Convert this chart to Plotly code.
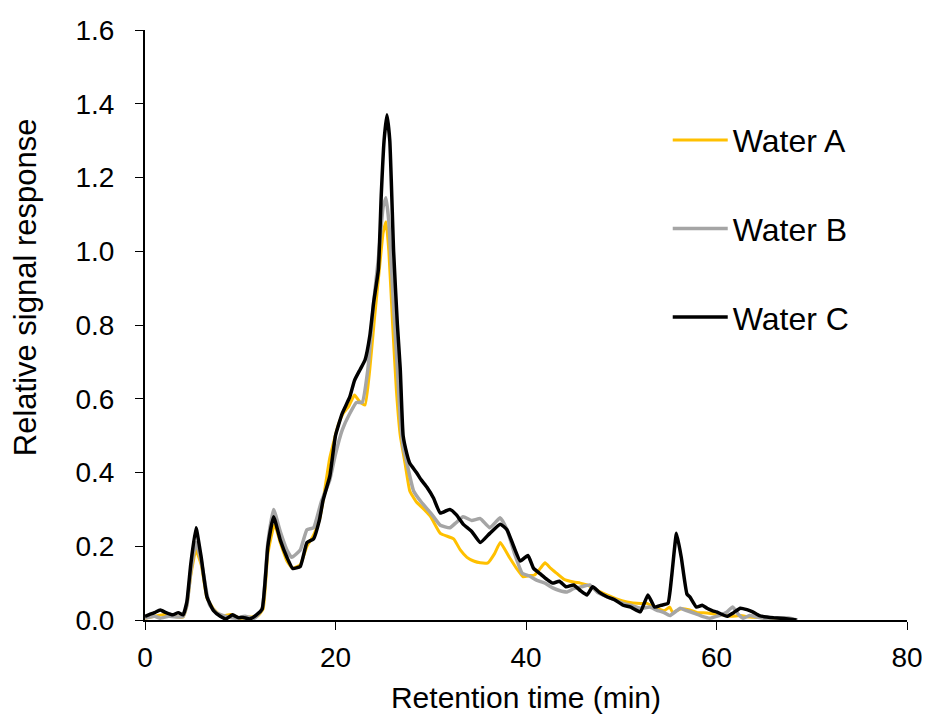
import plotly.graph_objects as go

# Water A (yellow)
t_a = [0, 1, 2, 3, 4.0, 4.4, 4.8, 5.35, 5.9, 6.5, 7.2, 8, 9, 10, 11, 11.8, 12.4, 12.9, 13.6, 14.2,
       14.9, 15.5, 16.3, 17, 17.7, 18.3, 18.7, 19.4, 20.3, 20.8, 21.4, 22, 22.6, 23.1, 23.6, 24.1,
       24.6, 25, 25.3, 25.6, 26, 26.4, 26.8, 27.3, 27.8, 28.5, 29.3, 30, 31, 32.4, 33.1, 33.8, 34.5,
       35.2, 36, 36.7, 37.3, 38.3, 39, 39.7, 40.3, 40.9, 41.5, 42, 42.6, 43.2, 44, 45, 45.7, 46.4,
       47.5, 48.5, 49.5, 50.6, 52, 52.7, 53.7, 54.5, 55.1, 55.4, 56.2, 57.2, 58, 59, 60, 60.6, 61.5,
       62.5, 63.5, 65, 66.7, 67.5]
y_a = [0.005, 0.01, 0.015, 0.01, 0.008, 0.04, 0.12, 0.19, 0.15, 0.06, 0.03, 0.01, 0.015, 0.005,
       0.008, 0.01, 0.03, 0.18, 0.26, 0.21, 0.16, 0.14, 0.15, 0.2, 0.23, 0.27, 0.325, 0.44, 0.53,
       0.56, 0.58, 0.61, 0.59, 0.583, 0.68, 0.82, 0.95, 1.05, 1.08, 1.0, 0.8, 0.62, 0.5, 0.425,
       0.35, 0.32, 0.3, 0.28, 0.235, 0.22, 0.19, 0.17, 0.16, 0.155, 0.155, 0.18, 0.21, 0.168, 0.14,
       0.117, 0.12, 0.122, 0.14, 0.155, 0.14, 0.127, 0.11, 0.103, 0.1, 0.095, 0.08, 0.068, 0.057,
       0.049, 0.045, 0.045, 0.032, 0.025, 0.035, 0.02, 0.03, 0.027, 0.02, 0.019, 0.015, 0.014,
       0.01, 0.012, 0.008, 0.006, 0.005, 0.0]

# Water B (grey)
t_b = [0, 1, 1.6, 2.5, 3.5, 4.0, 4.4, 4.8, 5.35, 5.9, 6.5, 6.8, 7.5, 8.5, 9.5, 10.5, 11.5, 12.3,
       12.9, 13.5, 14.2, 14.9, 15.4, 16.3, 17, 17.7, 18.5, 19.4, 20, 20.7, 21.5, 22.2, 22.8, 23.4,
       24, 24.5, 25, 25.3, 25.6, 26.1, 26.5, 26.8, 27.1, 27.5, 28.2, 29, 30, 31, 32, 32.7, 33.4,
       34.3, 35.2, 36.2, 37.3, 38, 38.8, 39.6, 40.3, 41.1, 42, 42.8, 43.5, 44.3, 45, 45.8, 46.7,
       47.5, 48.5, 49.3, 50.2, 51, 52, 53, 53.7, 54.5, 55.1, 56.2, 56.7, 57.6, 58.5, 59.3, 60, 61,
       61.7, 62.3, 62.8, 63.5, 64.2, 65, 66, 67.7, 68.5]
y_b = [0.005, 0.01, 0.005, 0.01, 0.008, 0.01, 0.04, 0.13, 0.21, 0.16, 0.07, 0.04, 0.02, 0.01,
       0.005, 0.01, 0.005, 0.03, 0.21, 0.3, 0.24, 0.19, 0.17, 0.19, 0.245, 0.25, 0.32, 0.38, 0.45,
       0.515, 0.56, 0.59, 0.59, 0.68, 0.86, 0.98, 1.12, 1.145, 1.08, 0.85, 0.68, 0.55, 0.47, 0.425,
       0.35, 0.32, 0.29, 0.257, 0.25, 0.265, 0.28, 0.27, 0.275, 0.25, 0.277, 0.245, 0.18, 0.127,
       0.12, 0.108, 0.1, 0.087, 0.08, 0.076, 0.085, 0.09, 0.095, 0.075, 0.063, 0.055, 0.045, 0.04,
       0.032, 0.035, 0.027, 0.02, 0.012, 0.032, 0.027, 0.019, 0.01, 0.005, 0.01, 0.02, 0.035,
       0.015, 0.005, 0.012, 0.008, 0.005, 0.006, 0.005, 0.0]

# Water C (black)
t_c = [0, 0.5, 1, 1.6, 2.2, 2.9, 3.5, 4.0, 4.4, 4.8, 5.35, 5.9, 6.5, 7.2, 7.9, 8.5, 9.2, 9.8, 10.3,
       11, 11.7, 12.3, 12.9, 13.5, 14.2, 14.9, 15.5, 16.3, 17.0, 17.7, 18.3, 18.7, 19.4, 20, 20.7,
       21.5, 22, 22.6, 23.1, 23.6, 24, 24.5, 24.8, 25.1, 25.4, 25.7, 26.1, 26.5, 26.8, 27.1, 27.5,
       27.8, 28.5, 29.0, 29.6, 30.3, 31, 32, 32.7, 33.4, 34.3, 35.2, 36.2, 37.3, 38, 38.7, 39.4,
       40.2, 40.8, 41.5, 42.2, 42.8, 43.5, 44.2, 45, 45.7, 46.4, 47, 47.7, 48.5, 49.3, 50.2, 51, 52,
       52.8, 53.5, 54.2, 54.9, 55.3, 55.8, 56.3, 56.9, 57.2, 57.9, 58.5, 59, 59.6, 60, 60.6, 61.1,
       61.8, 62.5, 63.2, 63.8, 64.5, 65.3, 66, 66.7, 67.5, 68.4]
y_c = [0.01, 0.015, 0.02, 0.027, 0.02, 0.014, 0.02, 0.014, 0.05, 0.15, 0.25, 0.17, 0.063, 0.025,
       0.01, 0.003, 0.014, 0.006, 0.007, 0.003, 0.014, 0.03, 0.2, 0.28, 0.217, 0.17, 0.14, 0.145,
       0.21, 0.22, 0.27, 0.325, 0.39, 0.5, 0.56, 0.605, 0.65, 0.68, 0.705, 0.77, 0.86, 0.95, 1.15,
       1.3, 1.37, 1.3, 1.0, 0.8, 0.68, 0.5, 0.45, 0.425, 0.4, 0.38, 0.36, 0.33, 0.29, 0.3, 0.285,
       0.26, 0.24, 0.21, 0.235, 0.26, 0.245, 0.2, 0.16, 0.175, 0.14, 0.125, 0.11, 0.1, 0.105, 0.09,
       0.095, 0.08, 0.068, 0.09, 0.075, 0.063, 0.055, 0.04, 0.035, 0.022, 0.068, 0.035, 0.04, 0.045,
       0.12, 0.235, 0.17, 0.07, 0.063, 0.035, 0.04, 0.032, 0.025, 0.022, 0.015, 0.01, 0.02, 0.032,
       0.028, 0.022, 0.012, 0.008, 0.006, 0.005, 0.003, 0.0]

series = [
    ("Water A", t_a, y_a, "#FFC000", 3),
    ("Water B", t_b, y_b, "#A5A5A5", 3.5),
    ("Water C", t_c, y_c, "#000000", 3.5),
]

font = "Liberation Sans, Arial, sans-serif"

fig = go.Figure()
for name, t, y, col, w in series:
    fig.add_trace(go.Scatter(x=t, y=y, mode="lines", name=name, legendgroup=name,
                             line=dict(color=col, width=w, shape="spline", smoothing=0.4)))

fig.update_xaxes(range=[0, 80], dtick=20, showgrid=False, zeroline=False, automargin=False,
                 showline=True, linecolor="black", linewidth=2,
                 ticks="outside", ticklen=8, tickwidth=1, tickcolor="black",
                 ticklabelstandoff=3,
                 tickfont=dict(size=28, color="black"),
                 title=dict(text="Retention time (min)", font=dict(size=30, color="black"), standoff=15))
fig.update_yaxes(range=[0, 1.6], dtick=0.2, tickformat=".1f", showgrid=False, zeroline=False,
                 automargin=False,
                 showline=True, linecolor="black", linewidth=2,
                 ticks="outside", ticklen=8, tickwidth=1, tickcolor="black",
                 ticklabelstandoff=15,
                 tickfont=dict(size=28, color="black"))

# y title sits above the plot's middle in the original, so it is an annotation
fig.add_annotation(text="Relative signal response", xref="paper", yref="paper",
                   x=0, y=0.564, xanchor="center", yanchor="middle", xshift=-120,
                   textangle=-90, showarrow=False, font=dict(size=31, color="black"))

# page body adds an 8px offset, so margins are shifted to keep the plot area in place
fig.update_layout(width=930, height=720,
                  margin=dict(l=137, r=31, t=22, b=108),
                  plot_bgcolor="white", paper_bgcolor="white",
                  font=dict(family=font, color="black"),
                  legend=dict(x=0.686, y=0.86, xanchor="left", yanchor="top",
                              font=dict(size=32), tracegroupgap=44, itemwidth=55,
                              bgcolor="rgba(0,0,0,0)"))

fig.write_html("out.html")
